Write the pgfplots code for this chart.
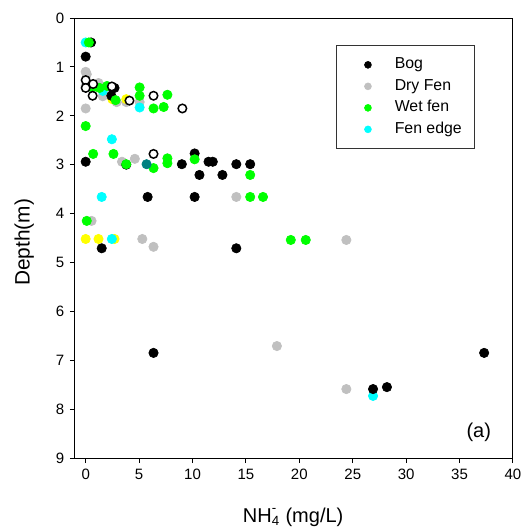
\documentclass[border=0pt]{standalone}
\usepackage{fontspec}
\setmainfont{Liberation Sans}
\usepackage{pgfplots}
\pgfplotsset{compat=1.18}
\definecolor{bog}{RGB}{0,0,0}
\definecolor{dryfen}{RGB}{192,192,192}
\definecolor{wetfen}{RGB}{0,255,0}
\definecolor{fenedge}{RGB}{0,255,255}
\definecolor{ylw}{RGB}{255,255,0}
\definecolor{tealc}{RGB}{0,128,128}
\pgfplotsset{
  ptst/.style={only marks, mark=*, mark size=2.8pt, line width=0.4pt, draw=#1, fill=#1, mark options={draw=#1, fill=#1}},
}
\begin{document}
\begin{tikzpicture}[x=1pt,y=1pt]
\useasboundingbox (-45,-43.2) rectangle (268.8,274.8);
\begin{axis}[
  at={(0,0)}, anchor=south west,
  scale only axis, width=262.8pt, height=264pt,
  xmin=-1, xmax=40, ymin=0, ymax=9, y dir=reverse,
  xtick={0,5,...,40}, ytick={0,1,...,9},
  tick align=outside, xtick pos=bottom, ytick pos=left,
  major tick length=3pt,
  axis line style={line width=0.6pt, black},
  every tick/.style={line width=0.6pt, black},
  tick label style={font=\fontsize{9}{10}\selectfont},
  /pgf/number format/assume math mode=true,
  xlabel={NH\rlap{\raisebox{0.15em}{\textsuperscript{-}}}\textsubscript{4}\ (mg/L)},
  xlabel style={at={(axis description cs:0.498,-0.147)}, anchor=base, font=\fontsize{12}{14}\selectfont},
  ylabel={Depth(m)},
  ylabel style={at={(axis description cs:-0.116,0.49)}, anchor=center, font=\fontsize{12.5}{14}\selectfont},
  clip=false,
  legend cell align=left,
  legend style={at={(axis description cs:0.596,0.939)}, anchor=north west, draw=black!80, line width=0.7pt, fill=white,
    font=\fontsize{9.5}{11}\selectfont, inner xsep=7.8pt, inner ysep=7pt, row sep=3.6pt, column sep=14pt,
    nodes={inner sep=0pt, text height=7pt, text depth=2.3pt}},
  legend image code/.code={\path (0pt,0pt); \draw[#1, line width=0.3pt, mark size=2.1pt] plot coordinates {(10.8pt,0pt)};},
]
\addlegendimage{ptst=bog}\addlegendentry{Bog}
\addlegendimage{ptst=dryfen}\addlegendentry{Dry Fen}
\addlegendimage{ptst=wetfen}\addlegendentry{Wet fen}
\addlegendimage{ptst=fenedge}\addlegendentry{Fen edge}
% Dry Fen
\addplot[ptst=dryfen, forget plot] coordinates {
(0,1.10) (0.1,1.15) (0,1.39) (1.2,1.33) (1.6,1.60) (2.9,1.72) (3.8,1.72) (5.05,1.72)
(0,1.85) (3.4,2.94) (4.6,2.88) (14.1,3.66) (0.55,4.15) (5.3,4.52) (6.35,4.68)
(24.4,4.54) (17.9,6.71) (24.4,7.59)};
% unlabelled yellow
\addplot[ptst=ylw, forget plot] coordinates {
(0,4.52) (1.2,4.52) (2.7,4.52) (2.5,1.66) (3.8,1.66)};
% Fen edge
\addplot[ptst=fenedge, forget plot] coordinates {
(0,0.50) (1.6,1.49) (5.05,1.83) (2.45,2.48) (1.5,3.66) (2.45,4.52) (26.9,7.73)};
% Bog
\addplot[ptst=bog, forget plot] coordinates {
(0.5,0.50) (0,0.79) (2.5,1.43) (2.7,1.43) (2.4,1.59) (0,2.94) (3.8,3.00) (9.0,2.99)
(10.2,2.77) (11.5,2.94) (11.9,2.94) (14.1,2.99) (15.4,2.99) (10.65,3.21) (12.8,3.21)
(5.8,3.66) (10.2,3.66) (1.5,4.71) (14.1,4.71) (6.35,6.85) (26.9,7.59) (28.2,7.55) (37.3,6.85)};
% Wet fen
\addplot[ptst=wetfen, forget plot] coordinates {
(0.3,0.50) (0.65,1.42) (1.3,1.43) (2.0,1.39) (2.8,1.68) (5.05,1.42) (5.05,1.59)
(6.35,1.85) (7.3,1.82) (7.65,1.57) (0,2.21) (0.7,2.78) (2.6,2.78) (3.8,2.99)
(6.35,3.07) (7.65,2.87) (7.65,2.97) (10.2,2.89) (15.4,3.21) (15.4,3.66) (16.6,3.66)
(0.1,4.15) (19.2,4.54) (20.6,4.54)};
% unlabelled teal
\addplot[ptst=tealc, forget plot] coordinates {(5.7,2.99)};
% unlabelled open circles
\addplot[only marks, mark=*, mark size=2.55pt, forget plot, mark options={draw=black, fill=white, line width=0.9pt}] coordinates {
(0,1.27) (0,1.43) (0.7,1.35) (0.65,1.59) (2.45,1.40) (4.1,1.69) (6.35,1.59) (9.05,1.85) (6.35,2.78)};
\node[font=\fontsize{12}{14}\selectfont] at (axis cs:36.8,8.47) {(a)};
\end{axis}
\end{tikzpicture}
\end{document}
